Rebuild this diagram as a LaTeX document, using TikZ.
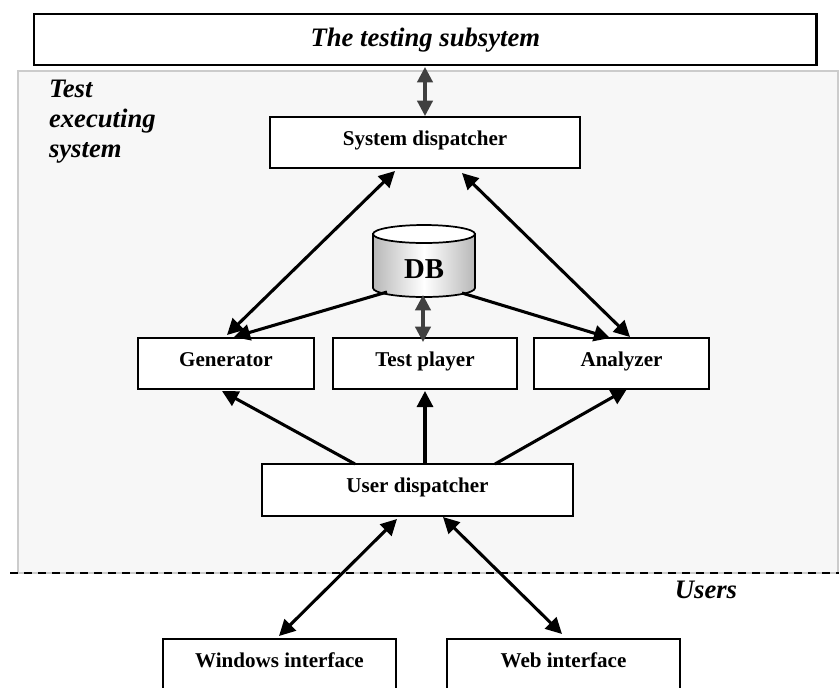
\documentclass[tikz,border=0pt]{standalone}
\usepackage{fontspec}
\setmainfont{Liberation Serif}
\usetikzlibrary{arrows.meta,calc}
\definecolor{panelgray}{HTML}{F7F7F7}
\definecolor{panelline}{HTML}{CCCCCC}
\definecolor{darkconn}{HTML}{404040}
\tikzset{
  x=0.75pt,y=-0.75pt,
  boxnode/.style={draw=black,fill=white,line width=1.5pt,anchor=north west,inner sep=0pt,outer sep=0pt,
    font=\fontsize{15.8}{18}\selectfont\bfseries,text height=9pt,text depth=5.25pt},
  conn/.style={line width=2.3pt,draw=black,{Triangle[length=12pt,width=12pt]}-{Triangle[length=12pt,width=12pt]}},
  oneway/.style={line width=2.3pt,draw=black,-{Triangle[length=12pt,width=12pt]}},
  darkarrow/.style={line width=2.3pt,draw=darkconn,{Triangle[length=11.5pt,width=11.5pt]}-{Triangle[length=11.5pt,width=11.5pt]}},
  bigital/.style={font=\fontsize{20}{22.5}\selectfont\bfseries\itshape,inner sep=0pt,outer sep=0pt},
}
\begin{document}
\begin{tikzpicture}
\path[use as bounding box] (0,0) rectangle (839,687);
% panel
\path[fill=panelgray,draw=panelline,line width=1.1pt] (18,71) rectangle (838,573);
\coordinate (dashL) at (10,573);
\coordinate (dashR) at (839,573);
\draw[line width=1.6pt,dash pattern=on 6pt off 4.5pt] (dashL) -- (dashR);
% boxes
\node[boxnode,line width=1.8pt,minimum width=587pt,minimum height=38.25pt,font=\fontsize{20}{22}\selectfont\bfseries\itshape,text height=13pt,text depth=3.25pt] (top) at (34,14) {The testing subsytem};
\node[boxnode,minimum width=232.5pt,minimum height=38.25pt] (sys) at (270,117) {System dispatcher};
\node[boxnode,minimum width=132pt,minimum height=38.25pt] (gen) at (138,338) {Generator};
\node[boxnode,minimum width=138pt,minimum height=38.25pt] (test) at (333,338) {Test player};
\node[boxnode,minimum width=131.25pt,minimum height=38.25pt] (ana) at (534,338) {Analyzer};
\node[boxnode,minimum width=233.25pt,minimum height=39pt] (user) at (262,464) {User dispatcher};
\node[boxnode,minimum width=174.75pt,minimum height=38.25pt] (win) at (163,639) {Windows interface};
\node[boxnode,minimum width=174.75pt,minimum height=38.25pt] (web) at (447,639) {Web interface};
% labels
\node[bigital,anchor=base west,align=left] (tes) at (49,157) {Test\\executing\\system};
\node[bigital,anchor=base] (usr) at (706,598) {Users};
% database
\path[left color=black!28,right color=black!28,middle color=white,draw=black,line width=1.3pt]
  (373,234) -- (373,288) arc[start angle=180,end angle=360,x radius=38.25pt,y radius=6.75pt] -- (475,234) -- cycle;
\path[fill=white,draw=black,line width=1.3pt] (424,234) ellipse[x radius=38.25pt,y radius=6.75pt];
\node[draw=none,inner sep=0pt,outer sep=0pt,anchor=north west,minimum width=76.5pt,minimum height=54pt,
  font=\fontsize{21.6}{24}\selectfont\bfseries,text height=25.5pt,text depth=0pt] (db) at (373,225) {DB};
% connectors
\draw[darkarrow] ($(top.south west)+(391,2)$) -- ($(sys.north west)+(155,-1)$);
\draw[conn] ($(sys.south west)+(125,3)$) -- ($(gen.north west)+(89,-3)$);
\draw[conn] ($(sys.south west)+(192,5)$) -- ($(ana.north west)+(96,-1)$);
\draw[oneway] ($(db.south west)+(14,-5)$) -- ($(gen.north west)+(96,-1)$);
\draw[oneway] ($(db.south west)+(89,-4)$) -- ($(ana.north west)+(76,0)$);
\draw[darkarrow] ($(db.south west)+(50,-2)$) -- ($(test.north west)+(90,4)$);
\draw[oneway] ($(user.north west)+(93,0)$) -- ($(gen.south west)+(84,2)$);
\draw[oneway] ($(user.north west)+(163,0)$) -- ($(test.south west)+(92,2)$);
\draw[oneway] ($(user.north west)+(233,0)$) -- ($(ana.south west)+(93,0)$);
\draw[conn] ($(user.south west)+(135,3)$) -- ($(win.north west)+(116,-3)$);
\draw[conn] ($(user.south west)+(181,1)$) -- ($(web.north west)+(115,-5)$);
\end{tikzpicture}
\end{document}
